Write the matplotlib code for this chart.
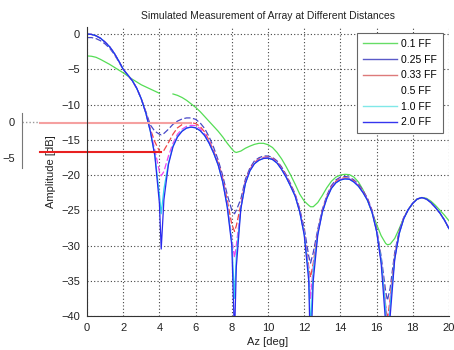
import matplotlib
matplotlib.use("Agg")
import matplotlib.pyplot as plt
import numpy as np
from matplotlib.lines import Line2D

plt.rcParams["font.family"] = ["Liberation Sans", "DejaVu Sans"]

# Azimuth samples [deg]
X_DEG = [0, 0.25, 0.5, 0.75, 1.0, 1.25, 1.5, 1.75, 2.0, 2.25, 2.5, 2.75, 3.0, 3.25, 3.5, 3.75, 4.0,
         4.1,
         4.25, 4.5, 4.75, 5.0, 5.25, 5.5, 5.75, 6.0, 6.25, 6.5, 6.75, 7.0, 7.25, 7.5, 7.75, 8.0,
         8.15,
         8.25, 8.5, 8.75, 9.0, 9.25, 9.5, 9.75, 10.0, 10.25, 10.5, 10.75, 11.0, 11.25, 11.5, 11.75, 12.0, 12.25,
         12.35,
         12.5, 12.75, 13.0, 13.25, 13.5, 13.75, 14.0, 14.25, 14.5, 14.75, 15.0, 15.25, 15.5, 15.75, 16.0, 16.25, 16.5,
         16.6,
         16.75, 17.0, 17.25, 17.5, 17.75, 18.0, 18.25, 18.5, 18.75, 19.0, 19.25, 19.5, 19.75, 20.0]

nan = float("nan")

# 幅度 [dB]，按测量距离（远场距离的倍数）
AMP_01 = [-3.1, -3.15, -3.3, -3.6, -3.95, -4.3, -4.7, -5.1, -5.5, -5.95, -6.4, -6.8, -7.2, -7.5, -7.8, -8.1, -8.4,
          nan,
          nan, nan, -8.5, -8.7, -9.0, -9.4, -9.9, -10.4, -11.0, -11.7, -12.4, -13.1, -13.8, -14.6, -15.5, -16.3,
          -16.7,
          -16.8, -16.6, -16.2, -15.9, -15.65, -15.5, -15.5, -15.7, -16.1, -16.8, -17.7, -18.8, -20.0, -21.3, -22.7, -23.7, -24.3,
          -24.5,
          -24.5, -23.9, -22.9, -21.8, -20.9, -20.3, -20.0, -19.9, -19.95, -20.3, -21.0, -22.1, -23.6, -25.3, -27.0, -28.6, -29.7,
          -29.9,
          -29.8, -29.0, -27.6, -26.1, -24.9, -24.0, -23.4, -23.2, -23.3, -23.7, -24.3, -25.0, -25.7, -26.5]

AMP_025 = [-0.5, -0.5, -0.65, -0.95, -1.4, -2.0, -2.85, -3.9, -5.0, -5.8, -6.6, -7.7, -9.2, -11.0, -12.9, -13.8, -14.2,
           -14.3,
           -14.1, -13.5, -12.8, -12.35, -12.05, -11.9, -11.9, -12.1, -12.6, -13.4, -14.6, -16.1, -17.9, -20.1, -22.8, -25.0,
           -25.5,
           -25.0, -23.4, -20.6, -19.0, -18.0, -17.55, -17.3, -17.3, -17.5, -18.0, -18.85, -19.95, -21.25, -22.7, -24.8, -27.5, -31.5,
           -32.5,
           -31.0, -27.7, -24.9, -22.9, -21.5, -20.7, -20.3, -20.2, -20.3, -20.7, -21.3, -22.2, -23.3, -25.0, -27.6, -31.5, -36.5,
           -37.8,
           -36.0, -31.0, -27.9, -26.0, -24.9, -24.0, -23.4, -23.2, -23.4, -23.9, -24.6, -25.4, -26.4, -27.6]

AMP_033 = [0.0, -0.05, -0.25, -0.6, -1.15, -1.8, -2.7, -3.8, -5.0, -5.8, -6.6, -7.7, -9.2, -11.1, -13.5, -15.3, -16.6,
           -16.8,
           -16.5, -15.4, -14.2, -13.3, -12.85, -12.6, -12.55, -12.7, -13.1, -13.9, -15.1, -16.6, -18.3, -20.5, -23.6, -27.0,
           -28.0,
           -27.2, -24.2, -20.9, -19.2, -18.2, -17.75, -17.5, -17.45, -17.65, -18.15, -19.0, -20.1, -21.4, -22.8, -25.0, -28.0, -33.0,
           -34.5,
           -32.5, -28.0, -25.1, -23.1, -21.7, -20.9, -20.5, -20.4, -20.5, -20.85, -21.45, -22.35, -23.45, -25.1, -27.8, -32.0, -38.5,
           -40.5,
           -37.5, -31.5, -28.1, -26.1, -24.9, -24.0, -23.4, -23.2, -23.4, -23.9, -24.6, -25.4, -26.4, -27.6]

AMP_05 = [0.0, -0.05, -0.25, -0.6, -1.15, -1.8, -2.7, -3.8, -5.0, -5.8, -6.6, -7.7, -9.2, -11.2, -13.7, -16.5, -19.5,
          -20.1,
          -19.5, -17.3, -15.5, -14.2, -13.5, -13.1, -12.95, -13.0, -13.4, -14.2, -15.3, -16.8, -18.5, -20.8, -24.2, -29.0,
          -31.7,
          -30.0, -24.6, -21.1, -19.3, -18.3, -17.85, -17.6, -17.55, -17.75, -18.25, -19.1, -20.2, -21.5, -22.9, -25.1, -28.2, -33.5,
          -37.5,
          -33.0, -28.2, -25.2, -23.2, -21.8, -21.0, -20.6, -20.5, -20.55, -20.9, -21.5, -22.4, -23.5, -25.2, -27.9, -32.0, -38.5,
          -43.0,
          -38.0, -31.8, -28.2, -26.1, -24.9, -24.0, -23.4, -23.2, -23.4, -23.9, -24.6, -25.4, -26.4, -27.6]

AMP_10 = [0.0, -0.05, -0.25, -0.6, -1.15, -1.8, -2.7, -3.8, -5.0, -5.8, -6.6, -7.7, -9.2, -11.2, -13.8, -17.2, -22.8,
          -25.5,
          -22.0, -18.3, -15.9, -14.5, -13.75, -13.3, -13.2, -13.3, -13.7, -14.4, -15.5, -16.9, -18.6, -21.0, -24.4, -29.5,
          -37.5,
          -31.5, -24.7, -21.2, -19.4, -18.4, -17.9, -17.65, -17.6, -17.8, -18.3, -19.2, -20.3, -21.6, -23.0, -25.2, -28.3, -34.0,
          -42.0,
          -33.5, -28.3, -25.3, -23.3, -21.9, -21.1, -20.7, -20.55, -20.6, -21.0, -21.6, -22.5, -23.6, -25.3, -28.0, -32.0, -39.0,
          -45.0,
          -38.5, -31.8, -28.3, -26.2, -24.9, -24.0, -23.4, -23.2, -23.4, -23.9, -24.6, -25.4, -26.4, -27.6]

AMP_20 = [0.0, -0.05, -0.25, -0.6, -1.15, -1.8, -2.7, -3.8, -5.0, -5.8, -6.6, -7.7, -9.2, -11.2, -13.8, -17.3, -24.0,
          -30.5,
          -23.5, -18.5, -16.0, -14.6, -13.8, -13.35, -13.2, -13.3, -13.7, -14.4, -15.5, -16.9, -18.6, -21.0, -24.6, -30.0,
          -43.0,
          -33.0, -24.8, -21.2, -19.4, -18.4, -17.9, -17.65, -17.6, -17.8, -18.3, -19.2, -20.3, -21.6, -23.0, -25.2, -28.5, -35.0,
          -46.0,
          -35.0, -28.5, -25.3, -23.3, -21.9, -21.1, -20.7, -20.55, -20.6, -21.0, -21.6, -22.5, -23.6, -25.3, -28.0, -32.5, -41.0,
          -48.0,
          -40.0, -32.0, -28.3, -26.2, -24.9, -24.0, -23.4, -23.2, -23.4, -23.9, -24.6, -25.4, -26.4, -27.6]

LABELS = ["0.1 FF", "0.25 FF", "0.33 FF", "0.5 FF", "1.0 FF", "2.0 FF"]
SERIES = [AMP_01, AMP_025, AMP_033, AMP_05, AMP_10, AMP_20]
COLORS = ["#55dd55", "#4848c8", "#f04848", "#ee44ee", "#30d4ee", "#2a2aee"]
LEG_COLORS = ["#66dd66", "#5a5ac8", "#dd7a7a", "none", "#80e8e8", "#3535ee"]
STYLES = ["-", (0, (5, 2)), (0, (5, 2)), (0, (5, 2)), "-", "-"]

W, H = 454, 350
fig = plt.figure(figsize=(W / 100, H / 100), dpi=100)
ax_l, ax_r, ax_t, ax_b = 87, 449, 27, 316
ax = fig.add_axes([ax_l / W, 1 - ax_b / H, (ax_r - ax_l) / W, (ax_b - ax_t) / H])

x = np.array(X_DEG)
for amp, col, ls in zip(SERIES, COLORS, STYLES):
    ax.plot(x, amp, color=col, lw=0.9, ls=ls)

ax.set_xlim(0, 20)
ax.set_ylim(-40, 1)
ax.set_xticks(np.arange(0, 21, 2))
ax.set_yticks(np.arange(-40, 1, 5))
ax.grid(True, color="#444444", ls=(0, (1, 2)), lw=0.8)
for s in ("top", "right"):
    ax.spines[s].set_visible(False)
for s in ("left", "bottom"):
    ax.spines[s].set_color("#333333")
ax.tick_params(length=0, labelsize=8, pad=5, colors="#222222")
ax.set_title("Simulated Measurement of Array at Different Distances", fontsize=7.5,
             color="#222222", pad=6)
ax.set_xlabel("Az [deg]", fontsize=8, labelpad=3, color="#222222")
ax.set_ylabel("Amplitude [dB]", fontsize=8, labelpad=4, color="#222222")

handles = [Line2D([], [], color=c, lw=1.0) for c in LEG_COLORS]
leg = ax.legend(handles, LABELS, loc="upper right", bbox_to_anchor=(0.983, 0.979),
                borderaxespad=0, fontsize=7.5, handlelength=3.3, labelspacing=0.55,
                fancybox=False, borderpad=0.55, handletextpad=0.4, framealpha=1)
leg.get_frame().set_edgecolor("#666666")
leg.get_frame().set_linewidth(0.8)

# 0.33 FF: first-null depth markers
x_null = 4.1
i_null = X_DEG.index(x_null)
peak_rng = [i for i, v in enumerate(X_DEG) if 5 <= v <= 7]
i_peak = max(peak_rng, key=lambda i: AMP_033[i])
x_start = (40 / W - ax_l / W) / ((ax_r - ax_l) / W) * 20
ax.plot([x_start, X_DEG[i_peak]], [AMP_033[i_peak]] * 2, color="#f5a0a0", lw=1.5, clip_on=False)
ax.plot([x_start, x_null], [AMP_033[i_null]] * 2, color="#e82020", lw=1.5, clip_on=False)

# small relative-scale axis on the left
ins = fig.add_axes([22 / W, 1 - 168 / H, 18 / W, 55 / H])
ins.set_xlim(0, 1)
ins.set_ylim(-6.39, 1.25)
ins.set_yticks([0, -5])
ins.set_xticks([])
ins.axhline(0, color="#999999", ls=(0, (1, 1.5)), lw=1.0)
for s in ("top", "right", "bottom"):
    ins.spines[s].set_visible(False)
ins.spines["left"].set_color("#777777")
ins.tick_params(length=0, labelsize=8, pad=5, colors="#222222")
ins.patch.set_alpha(0)

fig.savefig("out.png", dpi=100)
